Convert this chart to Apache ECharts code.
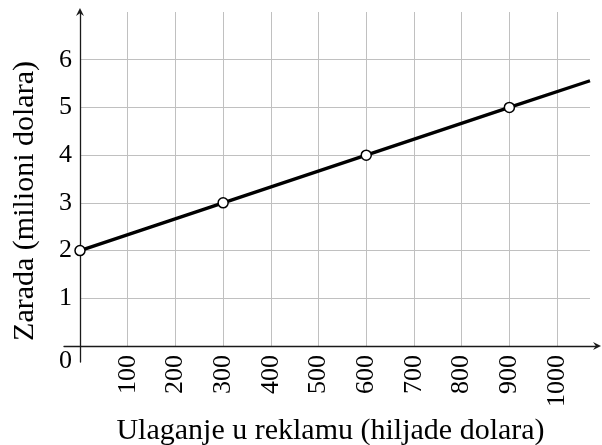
<!DOCTYPE html>
<html>
<head>
<meta charset="utf-8">
<script src="https://cdn.jsdelivr.net/npm/echarts@6/dist/echarts.min.js"></script>
<style>
  html, body { margin: 0; padding: 0; background: #fff; }
  #chart { width: 602px; height: 445px; }
</style>
</head>
<body>
<div id="chart"></div>
<script>
// podaci: ulaganje (hiljade $) -> zarada (milioni $)
var ulaganje = [0, 300, 600, 900, 1069];
var zarada = [2, 3, 4, 5, 5.56];
var saKrugom = [true, true, true, true, false];

var xMax = 1069;   // desni kraj mreze
var yMax = 7;      // gornji kraj mreze

var font = 'Liberation Serif';
var gridColor = '#c0c0c0';
var axisColor = '#1a1a1a';

var lineData = [];
for (var i = 0; i < ulaganje.length; i++) {
  lineData.push({
    value: [ulaganje[i], zarada[i]],
    symbol: saKrugom[i] ? 'circle' : 'none'
  });
}

// strelica na krajevima osa
var arrowPath = 'path://M5,0 L10,10 L5,6.5 L0,10 Z';

var option = {
  animation: false,
  backgroundColor: '#fff',
  grid: [
    // mreza sa podacima
    { left: 80, right: 12, top: 12, bottom: 99, containLabel: false, outerBoundsMode: 'none' },
    // samo ose sa strelicama (malo produzene)
    { left: 64, right: 5, top: 12, bottom: 83, containLabel: false, outerBoundsMode: 'none' }
  ],
  xAxis: [
    {
      gridIndex: 0,
      type: 'value',
      min: 0,
      max: xMax,
      interval: 100,
      axisLine: { show: false },
      axisTick: { show: false },
      splitLine: { show: true, showMaxLine: false, lineStyle: { color: gridColor, width: 1 } },
      axisLabel: {
        rotate: 90,
        margin: 9,
        showMaxLabel: false,
        fontFamily: font,
        fontSize: 26,
        color: '#000',
        formatter: function (v) { return v === 0 ? '' : String(v); }
      }
    },
    {
      gridIndex: 1,
      type: 'value',
      min: -33.5,
      max: 1083.7,
      axisLine: {
        show: true,
        onZero: true,
        symbol: ['none', arrowPath],
        symbolSize: [8, 9],
        lineStyle: { color: axisColor, width: 1.3 }
      },
      axisTick: { show: false },
      axisLabel: { show: false },
      splitLine: { show: false },
      name: 'Ulaganje u reklamu (hiljade dolara)',
      nameLocation: 'middle',
      nameGap: 54,
      nameTextStyle: { fontFamily: font, fontSize: 30, color: '#000' }
    }
  ],
  yAxis: [
    {
      gridIndex: 0,
      type: 'value',
      min: 0,
      max: yMax,
      interval: 1,
      axisLine: { show: false },
      axisTick: { show: false },
      splitLine: { show: true, showMaxLine: false, lineStyle: { color: gridColor, width: 1 } },
      axisLabel: {
        margin: 8,
        showMaxLabel: false,
        fontFamily: font,
        fontSize: 26,
        color: '#000',
        formatter: function (v) { return v === 0 ? '{z|0}' : String(v); },
        rich: {
          z: { fontFamily: font, fontSize: 26, color: '#000', padding: [30, 0, 0, 0] }
        }
      }
    },
    {
      gridIndex: 1,
      type: 'value',
      min: -0.335,
      max: yMax,
      axisLine: {
        show: true,
        onZero: true,
        symbol: ['none', arrowPath],
        symbolSize: [8, 9],
        lineStyle: { color: axisColor, width: 1.3 }
      },
      axisTick: { show: false },
      axisLabel: { show: false },
      splitLine: { show: false },
      name: 'Zarada (milioni dolara)',
      nameLocation: 'middle',
      nameRotate: 90,
      nameGap: 24,
      nameTextStyle: { fontFamily: font, fontSize: 30, color: '#000', padding: [0, 28, 0, 0] }
    }
  ],
  series: [
    {
      type: 'line',
      xAxisIndex: 0,
      yAxisIndex: 0,
      data: lineData,
      showAllSymbol: true,
      symbolSize: 10,
      lineStyle: { color: '#000', width: 3.3 },
      itemStyle: { color: '#fff', borderColor: '#000', borderWidth: 1.5 },
      z: 5
    }
  ]
};

var chart = echarts.init(document.getElementById('chart'));
chart.setOption(option);
</script>
</body>
</html>
